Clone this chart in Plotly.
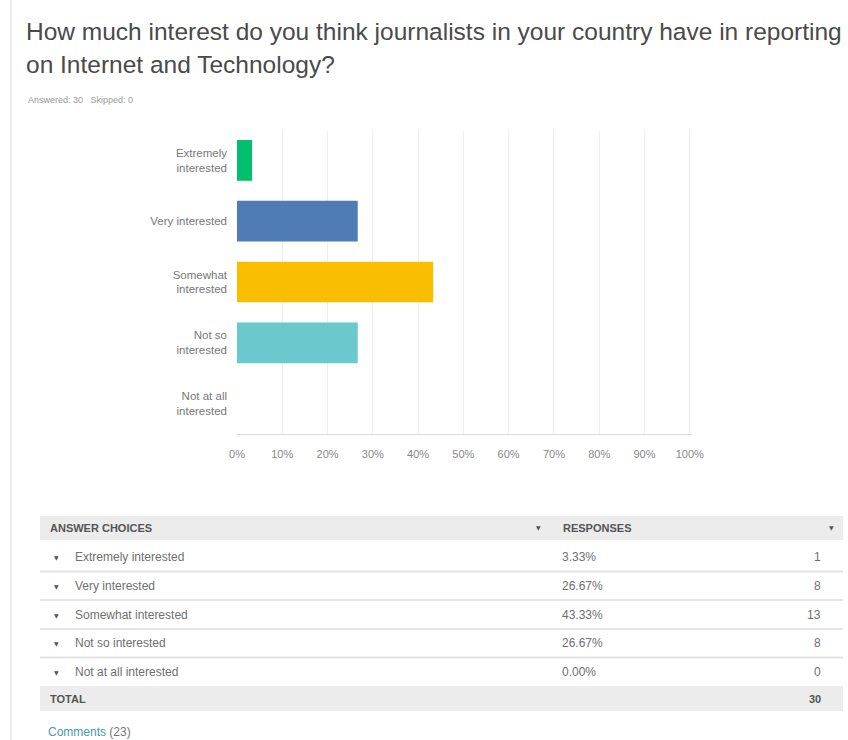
import plotly.graph_objects as go

# ---- data ----
categories = ["Extremely interested", "Very interested", "Somewhat interested",
              "Not so interested", "Not at all interested"]
tick_labels = ["Extremely<br>interested", "Very interested", "Somewhat<br>interested",
               "Not so<br>interested", "Not at all<br>interested"]
percent = [3.33, 26.67, 43.33, 26.67, 0.00]
counts = [1, 8, 13, 8, 0]
total = 30
answered = 30
skipped = 0
comments = 23
colors = ["#00BF6F", "#507CB6", "#F9BE00", "#6BC8CD", "#FF8B4F"]

W, H = 848, 740
L, R, T, B = 237, 692, 130, 434  # plot area in pixels

def px(x):
    return (x - L) / (R - L)

def py(y):
    return (B - y) / (B - T)

FONT = "Liberation Sans"
fig = go.Figure()
fig.add_trace(go.Bar(
    y=categories, x=percent, orientation="h",
    marker=dict(color=colors, line=dict(width=0)),
    width=0.67, hoverinfo="x+y",
))

shapes = []
ann = []

# title & meta
ann.append(dict(x=px(24), y=py(31), xref="paper", yref="paper", xanchor="left", yanchor="middle",
                text="How much interest do you think journalists in your country have in reporting",
                showarrow=False, font=dict(family=FONT, size=24.5, color="#4a4a4a")))
ann.append(dict(x=px(24), y=py(65), xref="paper", yref="paper", xanchor="left", yanchor="middle",
                text="on Internet and Technology?",
                showarrow=False, font=dict(family=FONT, size=24.5, color="#4a4a4a")))
ann.append(dict(x=px(26), y=py(100), xref="paper", yref="paper", xanchor="left", yanchor="middle",
                text=f"Answered: {answered}&nbsp;&nbsp;&nbsp;Skipped: {skipped}",
                showarrow=False, font=dict(family=FONT, size=9, color="#9a9a9a")))

# page left border
shapes.append(dict(type="line", xref="paper", yref="paper", x0=px(11), x1=px(11), y0=py(0), y1=py(740),
                   line=dict(color="#e6e6e6", width=1.5)))

# table
TL, TR = 40, 843
hdr_top, hdr_bot = 516, 540
row_centers = [557, 586, 615, 643, 672]
seps = [571.5, 600, 629, 657.5]
tot_top, tot_bot = 686, 711
shapes.append(dict(type="rect", xref="paper", yref="paper", x0=px(TL), x1=px(TR), y0=py(hdr_bot), y1=py(hdr_top),
                   fillcolor="#ececec", line=dict(width=0), layer="below"))
shapes.append(dict(type="rect", xref="paper", yref="paper", x0=px(TL), x1=px(TR), y0=py(tot_bot), y1=py(tot_top),
                   fillcolor="#ececec", line=dict(width=0), layer="below"))
for s in seps:
    shapes.append(dict(type="line", xref="paper", yref="paper", x0=px(TL), x1=px(TR), y0=py(s), y1=py(s),
                       line=dict(color="#e4e4e4", width=2)))

hdr_font = dict(family=FONT, size=11, color="#555555")
ann.append(dict(x=px(48), y=py(528), xref="paper", yref="paper", xanchor="left", yanchor="middle",
                text="<b>ANSWER CHOICES</b>", showarrow=False, font=hdr_font))
ann.append(dict(x=px(561), y=py(528), xref="paper", yref="paper", xanchor="left", yanchor="middle",
                text="<b>RESPONSES</b>", showarrow=False, font=hdr_font))
for xa in (538, 831):
    ann.append(dict(x=px(xa), y=py(527), xref="paper", yref="paper", xanchor="center", yanchor="middle",
                    text="▼", showarrow=False, font=dict(family="DejaVu Sans", size=6, color="#555555")))

row_font = dict(family=FONT, size=12, color="#6f6f6f")
for cat, p, c, yc in zip(categories, percent, counts, row_centers):
    ann.append(dict(x=px(56), y=py(yc), xref="paper", yref="paper", xanchor="center", yanchor="middle",
                    text="▼", showarrow=False, font=dict(family="DejaVu Sans", size=6, color="#555555")))
    ann.append(dict(x=px(73), y=py(yc), xref="paper", yref="paper", xanchor="left", yanchor="middle",
                    text=cat, showarrow=False, font=row_font))
    ann.append(dict(x=px(560), y=py(yc), xref="paper", yref="paper", xanchor="left", yanchor="middle",
                    text=f"{p:.2f}%", showarrow=False, font=row_font))
    ann.append(dict(x=px(823), y=py(yc), xref="paper", yref="paper", xanchor="right", yanchor="middle",
                    text=str(c), showarrow=False, font=row_font))
ann.append(dict(x=px(48), y=py(699), xref="paper", yref="paper", xanchor="left", yanchor="middle",
                text="<b>TOTAL</b>", showarrow=False, font=hdr_font))
ann.append(dict(x=px(823), y=py(699), xref="paper", yref="paper", xanchor="right", yanchor="middle",
                text=f"<b>{total}</b>", showarrow=False, font=hdr_font))
ann.append(dict(x=px(46), y=py(732), xref="paper", yref="paper", xanchor="left", yanchor="middle",
                text=f"<span style='color:#4a9bb0'>Comments</span> ({comments})", showarrow=False,
                font=dict(family=FONT, size=12, color="#777777")))

fig.update_layout(
    width=W, height=H,
    margin=dict(l=L, r=W - R, t=T, b=H - B, pad=0),
    paper_bgcolor="#ffffff", plot_bgcolor="#ffffff",
    showlegend=False,
    shapes=shapes, annotations=ann,
    bargap=0.33,
    xaxis=dict(range=[0, 100.5], tickmode="array", tickvals=[0, 10, 20, 30, 40, 50, 60, 70, 80, 90, 100],
               ticktext=[f"{v}%" for v in range(0, 101, 10)],
               showgrid=True, gridcolor="#eeeeee", gridwidth=1, zeroline=False,
               showline=True, linecolor="#d9d9d9", linewidth=1,
               ticks="", ticklabelstandoff=10,
               tickfont=dict(family=FONT, size=11, color="#888888"), fixedrange=True),
    yaxis=dict(categoryorder="array", categoryarray=categories, autorange="reversed",
               tickmode="array", tickvals=categories, ticktext=tick_labels,
               showgrid=False, zeroline=False, showline=False, ticks="", ticklabelstandoff=9,
               tickfont=dict(family=FONT, size=11.5, color="#777777"), fixedrange=True),
)

fig.write_html("out.html")
